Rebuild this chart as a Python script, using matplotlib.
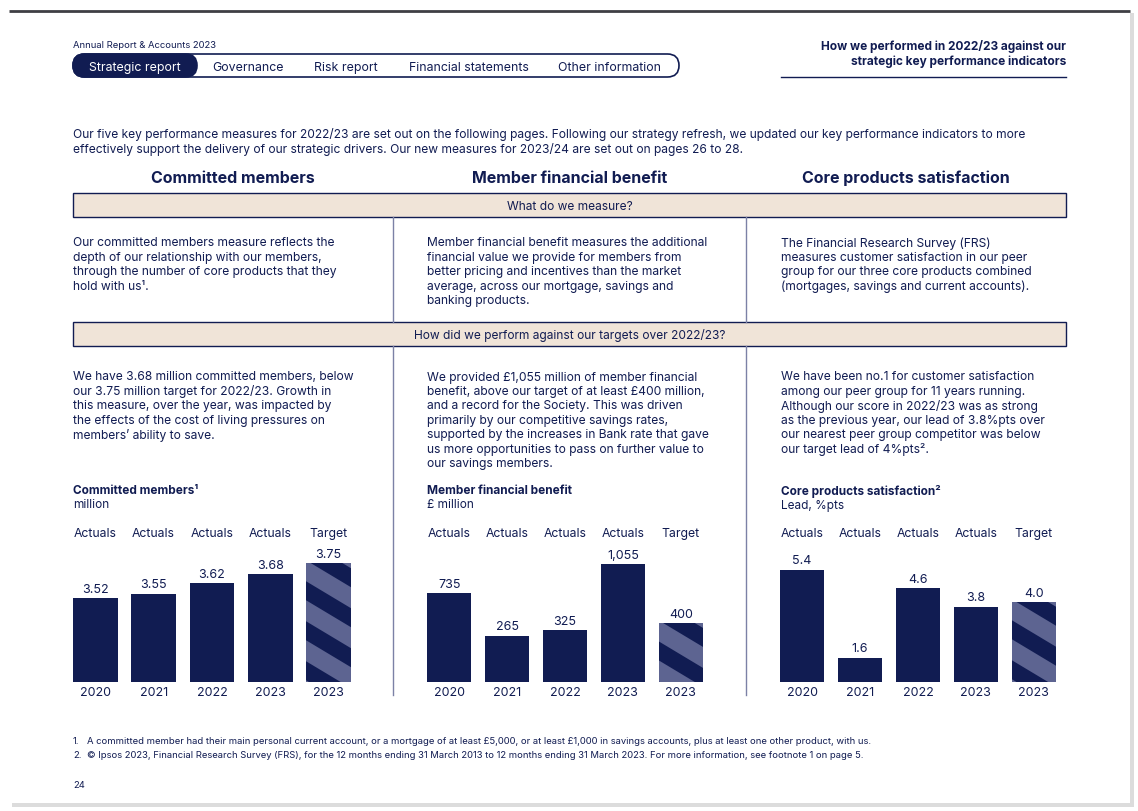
import matplotlib.pyplot as plt
from matplotlib.patches import FancyBboxPatch, Rectangle, Polygon
from matplotlib.transforms import IdentityTransform

plt.rcParams['font.family'] = ['Inter', 'DejaVu Sans']

NAVY = '#111c52'
SLATE = '#5d6491'
BEIGE = '#f0e4d8'
DIV = '#7c81a6'
W, H = 1138, 811

# chart data
years = ['2020', '2021', '2022', '2023', '2023']
kinds = ['Actuals', 'Actuals', 'Actuals', 'Actuals', 'Target']

members = [3.52, 3.55, 3.62, 3.68, 3.75]
members_lbl = ['3.52', '3.55', '3.62', '3.68', '3.75']
benefit = [735, 265, 325, 1055, 400]
benefit_lbl = ['735', '265', '325', '1,055', '400']
satisfaction = [5.4, 1.6, 4.6, 3.8, 4.0]
satisfaction_lbl = ['5.4', '1.6', '4.6', '3.8', '4.0']

nav_items = ['Strategic report', 'Governance', 'Risk report', 'Financial statements', 'Other information']
nav_x = [135, 248, 346, 469, 610]

col_heads = ['Committed members', 'Member financial benefit', 'Core products satisfaction']
col_x = [73, 427, 781]

measure_text = [
    ['Our committed members measure reflects the',
     'depth of our relationship with our members,',
     'through the number of core products that they',
     'hold with us\u00b9.'],
    ['Member financial benefit measures the additional',
     'financial value we provide for members from',
     'better pricing and incentives than the market',
     'average, across our mortgage, savings and',
     'banking products.'],
    ['The Financial Research Survey (FRS)',
     'measures customer satisfaction in our peer',
     'group for our three core products combined',
     '(mortgages, savings and current accounts).'],
]
perform_text = [
    ['We have 3.68 million committed members, below',
     'our 3.75 million target for 2022/23. Growth in',
     'this measure, over the year, was impacted by',
     'the effects of the cost of living pressures on',
     'members\u2019 ability to save.'],
    ['We provided \u00a31,055 million of member financial',
     'benefit, above our target of at least \u00a3400 million,',
     'and a record for the Society. This was driven',
     'primarily by our competitive savings rates,',
     'supported by the increases in Bank rate that gave',
     'us more opportunities to pass on further value to',
     'our savings members.'],
    ['We have been no.1 for customer satisfaction',
     'among our peer group for 11 years running.',
     'Although our score in 2022/23 was as strong',
     'as the previous year, our lead of 3.8%pts over',
     'our nearest peer group competitor was below',
     'our target lead of 4%pts\u00b2.'],
]
chart_titles = ['Committed members\u00b9', 'Member financial benefit', 'Core products satisfaction\u00b2']
chart_units = ['million', '\u00a3 million', 'Lead, %pts']

intro = ['Our five key performance measures for 2022/23 are set out on the following pages. Following our strategy refresh, we updated our key performance indicators to more',
         'effectively support the delivery of our strategic drivers. Our new measures for 2023/24 are set out on pages 26 to 28.']
footnotes = ['A committed member had their main personal current account, or a mortgage of at least \u00a35,000, or at least \u00a31,000 in savings accounts, plus at least one other product, with us.',
             '\u00a9 Ipsos 2023, Financial Research Survey (FRS), for the 12 months ending 31 March 2013 to 12 months ending 31 March 2023. For more information, see footnote 1 on page 5.']

fig = plt.figure(figsize=(W / 100, H / 100), dpi=100, facecolor='white')
page = fig.add_axes([0, 0, 1, 1])
page.set_xlim(0, W)
page.set_ylim(H, 0)
page.axis('off')

# page frame
page.add_patch(Rectangle((12, 13), 1122, 794, fc='#dcdcdc', ec='none'))
page.add_patch(Rectangle((9, 11), 1121, 792, fc='white', ec='none'))
page.plot([9, 1130], [10.5, 10.5], color='#3f3f44', lw=2, solid_capstyle='butt')


def txt(x, y, s, size=8.7, **kw):
    kw.setdefault('color', NAVY)
    kw.setdefault('va', 'center_baseline')
    page.text(x, y, s, fontsize=size, **kw)


# header
txt(73, 44, 'Annual Report & Accounts 2023', size=6.8)
page.add_patch(FancyBboxPatch((73, 54), 606, 23, boxstyle='round,pad=0,rounding_size=11.5',
                              fc='white', ec=NAVY, lw=1.2))
page.add_patch(FancyBboxPatch((73, 54), 124, 23, boxstyle='round,pad=0,rounding_size=11.5',
                              fc=NAVY, ec=NAVY, lw=1.2))
for i, (item, x) in enumerate(zip(nav_items, nav_x)):
    txt(x, 66.5, item, size=8.9, ha='center', color='white' if i == 0 else NAVY)

txt(1066, 45, 'How we performed in 2022/23 against our', size=8.55, ha='right', fontweight='bold')
txt(1066, 60, 'strategic key performance indicators', size=8.55, ha='right', fontweight='bold')
page.plot([781, 1066], [77, 77], color=NAVY, lw=1)

for i, line in enumerate(intro):
    txt(73, 133 + i * 15, line, size=8.65)

for x, head in zip([233, 570, 906], col_heads):
    txt(x, 177, head, size=11.5, ha='center', fontweight='bold')

# section bars
for y0, label in [(193, 'What do we measure?'), (322, 'How did we perform against our targets over 2022/23?')]:
    page.add_patch(Rectangle((73, y0), 993, 23.5, fc=BEIGE, ec=NAVY, lw=1))
    txt(570, y0 + 12, label, size=8.6, ha='center')

for x in [393, 746]:
    page.plot([x, x], [217, 322], color=DIV, lw=1)
    page.plot([x, x], [346, 695], color=DIV, lw=1)

for x, lines in zip(col_x, measure_text):
    for j, line in enumerate(lines):
        txt(x, 242 + j * 14.4, line)
for x, lines in zip(col_x, perform_text):
    for j, line in enumerate(lines):
        txt(x, 376 + j * 14.4, line)

for x, t, u in zip(col_x, chart_titles, chart_units):
    txt(x, 490, t, size=8.5, fontweight='bold')
    txt(x, 504, u, size=8.5)

for i, note in enumerate(footnotes):
    txt(73, 741 + i * 13, f'{i + 1}.', size=6.8)
    txt(87, 741 + i * 13, note, size=6.8)
txt(73, 784, '24', size=6.8)


def bar_chart(x0, x1, values, labels, lo, hi):
    base, top = 682, 552
    ax = fig.add_axes([x0 / W, (H - base) / H, (x1 - x0) / W, (base - top) / H])
    ax.axis('off')
    ax.set_xlim(-0.383, 4.383)
    ax.set_ylim(lo, hi)
    pos = list(range(len(values)))
    heights = [v - lo for v in values]
    ax.bar(pos[:4], heights[:4], bottom=lo, width=0.766, color=NAVY, edgecolor='none')
    target = ax.bar(pos[4:], heights[4:], bottom=lo, width=0.766, color=SLATE, edgecolor='none')[0]

    # diagonal stripes on the target bar, in pixel space
    bb = target.get_window_extent()
    w = bb.x1 - bb.x0
    period, band, slope = 40, 19, 0.6
    for k in range(-2, 8):
        ys = bb.y1 - 18 - k * period
        pts = [(bb.x0 - 5, ys + slope * 5), (bb.x1 + 5, ys - slope * (w + 5)),
               (bb.x1 + 5, ys - band - slope * (w + 5)), (bb.x0 - 5, ys - band + slope * 5)]
        stripe = Polygon(pts, closed=True, transform=IdentityTransform(), fc=NAVY, ec='none')
        ax.add_artist(stripe)
        stripe.set_clip_path(target)

    for i, (v, lbl) in enumerate(zip(values, labels)):
        ax.annotate(lbl, (i, v), xytext=(0, 1.8), textcoords='offset points',
                    ha='center', va='bottom', fontsize=9, color=NAVY)
        ax.text(i, 1.142, kinds[i], transform=ax.get_xaxis_transform(),
                ha='center', va='center', fontsize=8.8, color=NAVY)
        ax.text(i, -0.088, years[i], transform=ax.get_xaxis_transform(),
                ha='center', va='center', fontsize=9, color=NAVY)
    return ax


bar_chart(73, 351, members, members_lbl, 2.971, 3.825)
bar_chart(427, 703, benefit, benefit_lbl, -250, 1190)
bar_chart(780, 1056, satisfaction, satisfaction_lbl, 0.54, 6.17)

fig.savefig('out.png', dpi=100, facecolor='white')
